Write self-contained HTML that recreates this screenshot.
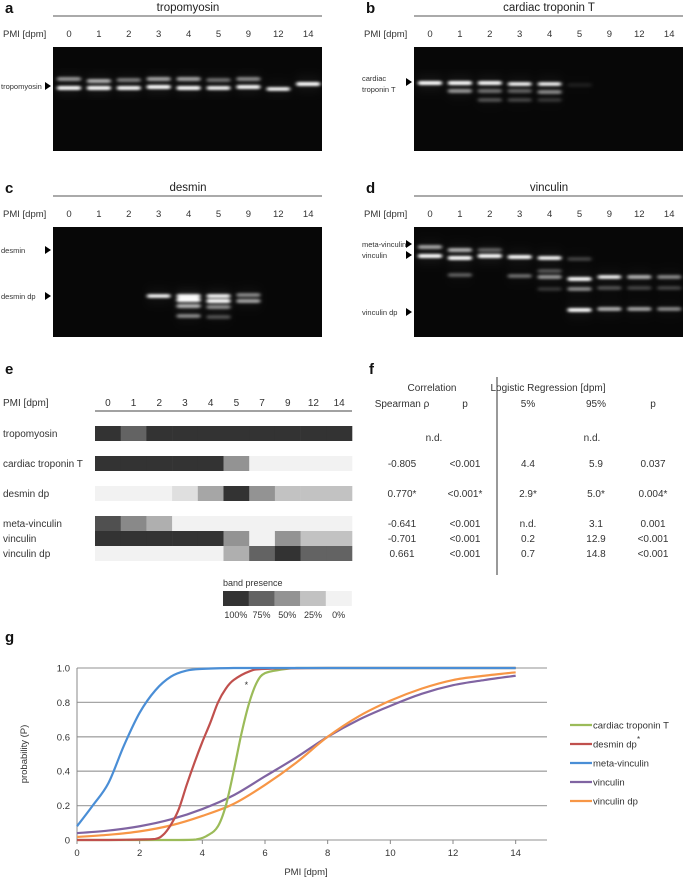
<!DOCTYPE html>
<html><head><meta charset="utf-8"><style>
html,body{margin:0;padding:0;background:#fff}
svg{display:block;font-family:"Liberation Sans",sans-serif}
</style></head><body>
<svg id="fig" width="684" height="878" viewBox="0 0 684 878" xmlns="http://www.w3.org/2000/svg">
<defs>
<filter id="blur" x="-30%" y="-300%" width="160%" height="700%"><feGaussianBlur stdDeviation="1.8 1.3"/></filter>
<filter id="haze" x="-30%" y="-30%" width="160%" height="160%"><feGaussianBlur stdDeviation="4 6"/></filter>
</defs>
<g id="gels"></g>
<g id="heat"></g>
<g id="table" font-size="10" fill="#333" text-anchor="middle"></g>
<g id="chart"></g>
</svg>
<script>
const NS="http://www.w3.org/2000/svg";
function mk(parent,tag,attrs,text){const e=document.createElementNS(NS,tag);for(const k in attrs)e.setAttribute(k,attrs[k]);if(text!==undefined)e.textContent=text;parent.appendChild(e);return e;}

// ---------- Gel panels ----------
const gelLanes=["0","1","2","3","4","5","9","12","14"];
const gelTitles=["tropomyosin","cardiac troponin T","desmin","vinculin"];
const gelLetters=["a","b","c","d"];
const gelBandsA=[[0,79,.5],[0,88,.9],[1,81,.6],[1,88,1],[2,80,.4],[2,88,.85],[3,79,.55],[3,87,1],[4,79,.55],[4,88,.9],[5,80,.35],[5,88,.75],[6,79,.45],[6,87,.85],[7,89,.7],[8,84,.9]];
const gelBandsB=[[0,83,1],[1,83,.95],[1,91,.5],[2,83,.85],[2,91,.35],[2,100,.25],[3,84,.7],[3,91,.3],[3,100,.2],[4,84,.65],[4,92,.45],[4,100,.15],[5,85,.08]];
const gelBandsC=[[3,296,.7],[4,296,.8],[4,300,1],[4,306,.6],[4,316,.45],[5,296,.75],[5,301,.9],[5,307,.45],[5,317,.25],[6,295,.45],[6,301,.55]];
const gelBandsD=[[0,247,.55],[0,256,1],[1,250,.6],[1,258,1],[1,275,.3],[2,250,.3],[2,256,1],[3,257,.85],[3,276,.35],[4,258,.75],[4,271,.25],[4,277,.5],[4,289,.15],[5,259,.2],[5,279,.85],[5,289,.45],[5,310,.85],[6,277,.65],[6,288,.25],[6,309,.6],[7,277,.6],[7,288,.2],[7,309,.55],[8,277,.45],[8,288,.2],[8,309,.45]];
const gelBands=[gelBandsA,gelBandsB,gelBandsC,gelBandsD];
const gelGeo=[{x:53,y:0,lx:69},{x:414,y:0,lx:430},{x:53,y:180,lx:69},{x:414,y:180,lx:430}];
const gelMarkers=[[["tropomyosin",86]],[["cardiac",82],["troponin T",82]],[["desmin",70],["desmin dp",116]],[["meta-vinculin",64],["vinculin",75],["vinculin dp",132]]];
const G=document.getElementById('gels');
gelGeo.forEach((g,i)=>{
  const grp=mk(G,'g',{});
  
  
  const L=mk(grp,'text',{x:g.x-48,y:g.y+13,'font-size':15,'font-weight':'bold',fill:'#111'},gelLetters[i]);
  
  const T=mk(grp,'text',{x:g.x+135,y:g.y+11,'font-size':11.5,'text-anchor':'middle',fill:'#222'},gelTitles[i]);
  
  mk(grp,'line',{x1:g.x,x2:g.x+269,y1:g.y+16,y2:g.y+16,stroke:'#555','stroke-width':1});
  const P=mk(grp,'text',{x:g.x-50,y:g.y+37,'font-size':9.5,fill:'#333'},'PMI [dpm]');
  
  gelLanes.forEach((l,j)=>{const t=mk(grp,'text',{x:g.lx+j*29.9,y:g.y+37,'font-size':9.5,'text-anchor':'middle',fill:'#333'},l);
    });
  const h=(i<2)?104:110;
  const r=mk(grp,'rect',{x:g.x,y:g.y+47,width:269,height:h,fill:'#070707'});
  
  const hz=mk(grp,'g',{filter:'url(#haze)'});
  gelBands[i].forEach(b=>{
    const cx=g.lx+b[0]*29.9;
    mk(hz,'rect',{x:cx-12,y:b[1]-5,width:24,height:10,fill:'#fff','fill-opacity':b[2]*0.08});
  });
  const bg=mk(grp,'g',{filter:'url(#blur)'});
  gelBands[i].forEach(b=>{
    const cx=g.lx+b[0]*29.9;
    const br=mk(bg,'rect',{x:cx-12,y:b[1]-2,width:24,height:4,rx:2,fill:'#fff','fill-opacity':Math.min(1,b[2]*1.1)});
    
    if(b[2]>0.6) mk(bg,'rect',{x:cx-10,y:b[1]-1.2,width:20,height:2.4,fill:'#fff','fill-opacity':1});
  });
  gelMarkers[i].forEach((m,k)=>{
    if(i===1){ if(k===0){const ay=g.y+m[1];mk(grp,'text',{x:g.x-52,y:g.y+81,'font-size':7.5,fill:'#333'},'cardiac');mk(grp,'text',{x:g.x-52,y:g.y+92,'font-size':7.5,fill:'#333'},'troponin T');
      const a=mk(grp,'polygon',{points:`${g.x-8},${ay-4} ${g.x-2},${ay} ${g.x-8},${ay+4}`,fill:'#000'});}
      return;}
    const yy=(i===0)?m[1]:g.y+m[1];
    mk(grp,'text',{x:g.x-52,y:yy+3,'font-size':7.5,fill:'#333'},m[0]);
    const a=mk(grp,'polygon',{points:`${g.x-8},${yy-4} ${g.x-2},${yy} ${g.x-8},${yy+4}`,fill:'#000'});
    
  });
});

// ---------- Heatmap (panel e) ----------
const heatLanes=["0","1","2","3","4","5","7","9","12","14"];
const heatRows=["tropomyosin","cardiac troponin T","desmin dp","meta-vinculin","vinculin","vinculin dp"];
const heatTropomyosin=[100,75,100,100,100,100,100,100,100,100];
const heatTroponin=[100,100,100,100,100,50,0,0,0,0];
const heatDesmin=[0,0,0,10,40,100,50,25,25,25];
const heatMeta=[85,55,35,0,0,0,0,0,0,0];
const heatVinculin=[100,100,100,100,100,50,0,50,25,25];
const heatVinculinDp=[0,0,0,0,0,35,75,100,75,75];
const legendLevels=[100,75,50,25,0];
const heatData=[heatTropomyosin,heatTroponin,heatDesmin,heatMeta,heatVinculin,heatVinculinDp];
const rowY=[426,456,486,516,531,546];
const H=document.getElementById('heat');
function shade(v){const c=Math.round(242-v/100*(242-51));return `rgb(${c},${c},${c})`;}
const hx0=95,cw=25.7;
mk(H,'text',{x:5,y:374,'font-size':15,'font-weight':'bold',fill:'#111'},'e');
mk(H,'text',{x:3,y:406,'font-size':10,fill:'#333'},'PMI [dpm]');
heatLanes.forEach((l,j)=>{const t=mk(H,'text',{x:hx0+cw*(j+0.5),y:406,'font-size':10,'text-anchor':'middle',fill:'#333'},l);
  });
mk(H,'line',{x1:95,x2:352,y1:411,y2:411,stroke:'#444','stroke-width':1});
heatRows.forEach((r,i)=>{
  const t=mk(H,'text',{x:3,y:rowY[i]+11,'font-size':10,fill:'#333'},r);
  
  heatData[i].forEach((v,j)=>{const c=mk(H,'rect',{x:hx0+cw*j,y:rowY[i],width:cw+0.3,height:15,fill:shade(v)});
    });
});
mk(H,'text',{x:223,y:586,'font-size':9,fill:'#333'},'band presence');
legendLevels.forEach((v,j)=>{
  const c=mk(H,'rect',{x:223+cw*j,y:591,width:cw+0.3,height:15,fill:shade(v)});
  
  const t=mk(H,'text',{x:223+cw*(j+0.5),y:618,'font-size':9,'text-anchor':'middle',fill:'#333'},v+'%');
  
});

// ---------- Table (panel f) ----------
const T=document.getElementById('table');
const colX=[402,465,528,596,653];
const tableRows=[
 ["","","","",""],
 ["-0.805","<0.001","4.4","5.9","0.037"],
 ["0.770*","<0.001*","2.9*","5.0*","0.004*"],
 ["-0.641","<0.001","n.d.","3.1","0.001"],
 ["-0.701","<0.001","0.2","12.9","<0.001"],
 ["0.661","<0.001","0.7","14.8","<0.001"]];
mk(T,'text',{x:369,y:374,'font-size':15,'font-weight':'bold','text-anchor':'start',fill:'#111'},'f');
mk(T,'text',{x:432,y:391},'Correlation');
mk(T,'text',{x:548,y:391},'Logistic Regression [dpm]');
["Spearman ρ","p","5%","95%","p"].forEach((h,j)=>mk(T,'text',{x:colX[j],y:407},h));
mk(T,'line',{x1:497,x2:497,y1:377,y2:575,stroke:'#333','stroke-width':1});
mk(T,'text',{x:434,y:441},'n.d.');mk(T,'text',{x:592,y:441},'n.d.');
tableRows.forEach((r,i)=>r.forEach((v,j)=>{if(v){const t=mk(T,'text',{x:colX[j],y:rowY[i]+11},v);
  }}));

// ---------- Chart (panel g) ----------
const xTicks=[0,2,4,6,8,10,12,14];
const yTicks=[0,0.2,0.4,0.6,0.8,1.0];
const yTickLabels=["0","0.2","0.4","0.6","0.8","1.0"];
const seriesNames=["cardiac troponin T","desmin dp","meta-vinculin","vinculin","vinculin dp"];
const seriesColors=["#9bbb59","#c0504d","#4a8ed6","#8064a2","#f79646"];
const troponinX=[0,3,3.8,4.2,4.5,4.75,5,5.25,5.5,5.75,6,6.5,7,8,14];
const troponinP=[0,0,0.003,0.03,0.08,0.2,0.4,0.62,0.8,0.92,0.97,0.99,1,1,1];
const desminX=[0,1,2,2.5,2.75,3,3.25,3.5,3.75,4,4.25,4.5,4.75,5,5.5,6,8,14];
const desminP=[0,0,0.003,0.006,0.03,0.09,0.18,0.32,0.45,0.57,0.68,0.8,0.88,0.93,0.98,0.995,1,1];
const metaX=[0,0.5,1,1.5,2,2.5,3,3.5,4,5,6,8,10,12,14];
const metaP=[0.08,0.2,0.33,0.55,0.74,0.87,0.95,0.985,0.995,1,1,1,1,1,1];
const vinculinX=[0,1,2,3,4,5,6,7,8,9,10,11,12,13,14];
const vinculinP=[0.04,0.055,0.08,0.12,0.18,0.26,0.37,0.48,0.6,0.7,0.78,0.85,0.9,0.93,0.955];
const vinculinDpX=[0,1,2,3,4,5,6,7,8,9,10,11,12,13,14];
const vinculinDpP=[0.018,0.03,0.05,0.085,0.14,0.21,0.32,0.45,0.6,0.72,0.81,0.88,0.93,0.955,0.975];
const seriesX=[troponinX,desminX,metaX,vinculinX,vinculinDpX];
const seriesP=[troponinP,desminP,metaP,vinculinP,vinculinDpP];

const C=document.getElementById('chart');
const px0=77,px1=547,py0=840,py1=668,xMax=15;
const sx=v=>px0+v/xMax*(px1-px0);
const sy=v=>py0-v*(py0-py1);
mk(C,'text',{x:5,y:642,'font-size':15,'font-weight':'bold',fill:'#111'},'g');
yTicks.forEach((v,i)=>{
  const gl=mk(C,'line',{x1:px0,x2:px1,y1:sy(v),y2:sy(v),stroke:'#a6a6a6','stroke-width':1.3});
  
  const t=mk(C,'text',{x:70,y:sy(v)+3.5,'font-size':9.5,'text-anchor':'end',fill:'#333'},yTickLabels[i]);
  
});
mk(C,'line',{x1:px0,x2:px0,y1:py1,y2:py0,stroke:'#888','stroke-width':1});
xTicks.forEach(v=>{
  mk(C,'line',{x1:sx(v),x2:sx(v),y1:py0,y2:py0+4,stroke:'#888'});
  const t=mk(C,'text',{x:sx(v),y:856,'font-size':9.5,'text-anchor':'middle',fill:'#333'},String(v));
  
});
const xt=mk(C,'text',{x:306,y:875,'font-size':9.5,'text-anchor':'middle',fill:'#333'},'PMI [dpm]');

const yt=mk(C,'text',{x:0,y:0,'font-size':9.5,'text-anchor':'middle',fill:'#333',transform:`translate(27,${(py0+py1)/2}) rotate(-90)`},'probability (P)');

function smooth(pts){let d=`M${pts[0][0]},${pts[0][1]}`;
  for(let i=0;i<pts.length-1;i++){const p0=pts[i-1]||pts[i],p1=pts[i],p2=pts[i+1],p3=pts[i+2]||p2;
    let c1y=p1[1]+(p2[1]-p0[1])/6,c2y=p2[1]-(p3[1]-p1[1])/6;
    const lo=Math.min(p1[1],p2[1]),hi=Math.max(p1[1],p2[1]);c1y=Math.min(hi,Math.max(lo,c1y));c2y=Math.min(hi,Math.max(lo,c2y));
    d+=` C${p1[0]+(p2[0]-p0[0])/6},${c1y} ${p2[0]-(p3[0]-p1[0])/6},${c2y} ${p2[0]},${p2[1]}`;}
  return d;}
[3,4,0,1,2].forEach(i=>{
  const pts=seriesX[i].map((x,k)=>[sx(x),sy(seriesP[i][k])]);
  const p=mk(C,'path',{d:smooth(pts),fill:'none',stroke:seriesColors[i],'stroke-width':2.2,'stroke-linejoin':'round'});
  
  
});
mk(C,'text',{x:sx(5.35),y:sy(0.9)+3,'font-size':9,fill:'#333'},'*');
const legY=[725,744,763,782,801];
seriesNames.forEach((n,i)=>{
  const lg=mk(C,'g',{});
  
  
  mk(lg,'line',{x1:570,x2:592,y1:legY[i],y2:legY[i],stroke:seriesColors[i],'stroke-width':2.2});
  mk(lg,'text',{x:593,y:legY[i]+3.5,'font-size':9.5,fill:'#333'},n);
  if(i===1) mk(lg,'text',{x:637,y:legY[i]-2,'font-size':8,fill:'#333'},'*');
});
</script>
</body></html>
